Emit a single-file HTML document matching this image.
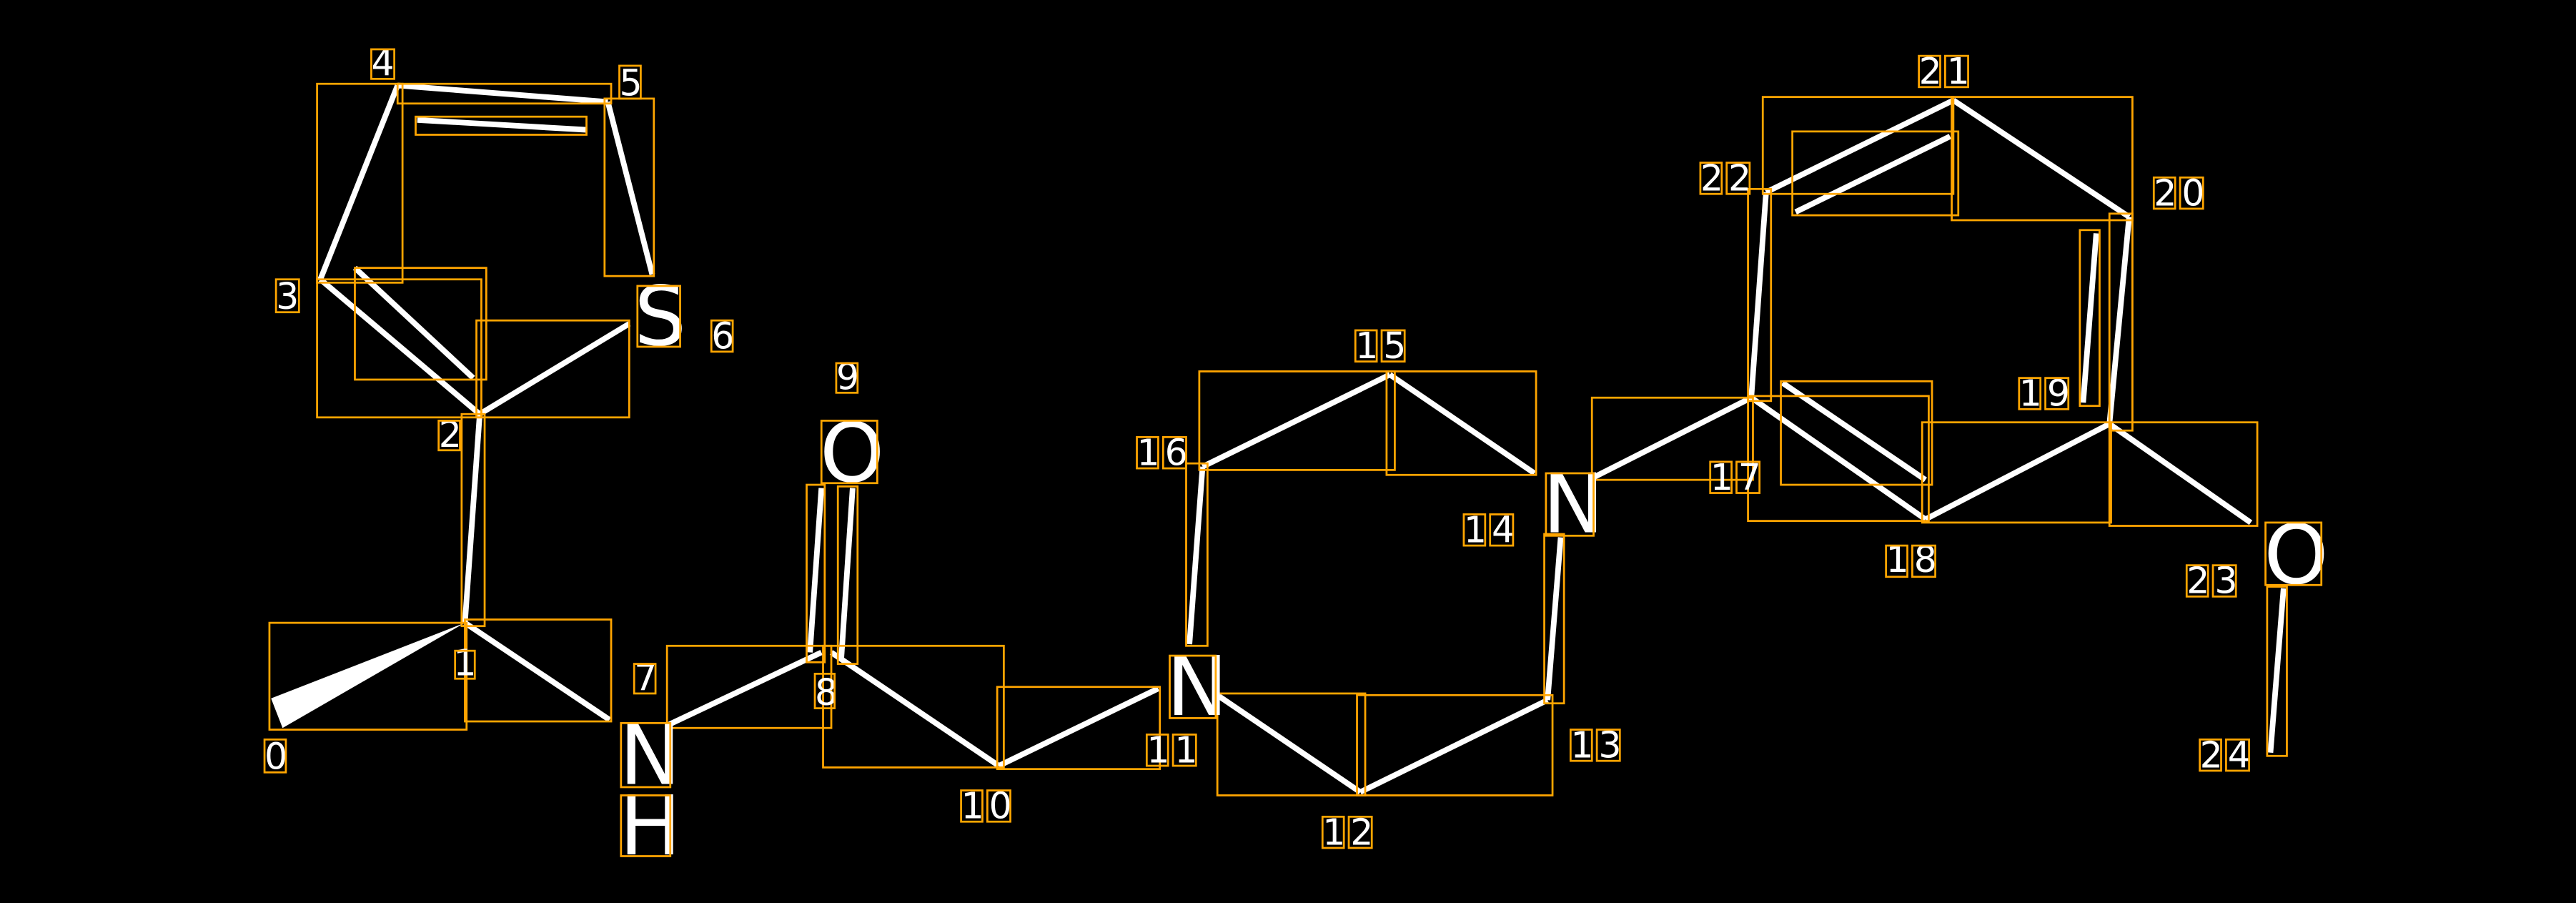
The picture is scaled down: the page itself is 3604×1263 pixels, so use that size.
<!DOCTYPE html>
<html><head><meta charset="utf-8"><style>
html,body{margin:0;padding:0;background:#000;}
svg{display:block;}
</style></head><body>
<svg width="3604" height="1263" viewBox="0 0 1568 549.5" preserveAspectRatio="none" xmlns="http://www.w3.org/2000/svg">
<rect width="1568" height="549.5" fill="#000"/>
<g stroke="#fff" stroke-width="3.4" stroke-linecap="butt" fill="none">
<line x1="283" y1="379" x2="292" y2="252"/>
<line x1="283" y1="379" x2="371" y2="438"/>
<line x1="292" y1="252" x2="195" y2="170"/>
<line x1="292" y1="252" x2="383" y2="197"/>
<line x1="195" y1="170" x2="242" y2="52"/>
<line x1="242" y1="52" x2="370" y2="62"/>
<line x1="254" y1="73" x2="357" y2="79"/>
<line x1="216" y1="163" x2="288" y2="230"/>
<line x1="370" y1="62" x2="397" y2="167"/>
<line x1="407" y1="441" x2="500" y2="397"/>
<line x1="493" y1="397" x2="500" y2="297"/>
<line x1="512" y1="402" x2="519" y2="297"/>
<line x1="506" y1="397" x2="608" y2="466"/>
<line x1="608" y1="466" x2="705" y2="419"/>
<line x1="741" y1="423" x2="828" y2="482"/>
<line x1="828" y1="482" x2="942" y2="426"/>
<line x1="942" y1="426" x2="950" y2="327"/>
<line x1="732" y1="284" x2="724" y2="392"/>
<line x1="732" y1="284" x2="846" y2="228"/>
<line x1="846" y1="228" x2="934" y2="288"/>
<line x1="969" y1="291" x2="1066" y2="242"/>
<line x1="1066" y1="242" x2="1172" y2="316"/>
<line x1="1085" y1="233" x2="1172" y2="292"/>
<line x1="1172" y1="316" x2="1284" y2="258"/>
<line x1="1284" y1="258" x2="1296" y2="132"/>
<line x1="1268" y1="245" x2="1276" y2="142"/>
<line x1="1296" y1="132" x2="1189" y2="61"/>
<line x1="1189" y1="61" x2="1075" y2="117"/>
<line x1="1093" y1="129" x2="1187" y2="83"/>
<line x1="1075" y1="117" x2="1066" y2="242"/>
<line x1="1284" y1="258" x2="1370" y2="318"/>
<line x1="1390" y1="358" x2="1382" y2="458"/>
</g>
<polygon points="283,379 165,425 172,443" fill="#fff"/>
<g stroke="#FFA500" stroke-width="1.2" fill="none">
<rect x="164" y="379" width="120" height="65"/>
<rect x="281" y="252" width="14" height="129"/>
<rect x="283" y="377" width="89" height="62"/>
<rect x="193" y="170" width="100" height="84"/>
<rect x="290" y="195" width="93" height="59"/>
<rect x="193" y="51" width="52" height="121"/>
<rect x="242" y="51" width="130" height="12"/>
<rect x="253" y="71" width="104" height="11"/>
<rect x="216" y="163" width="80" height="68"/>
<rect x="368" y="60" width="30" height="108"/>
<rect x="406" y="393" width="100" height="50"/>
<rect x="491" y="295" width="11" height="108"/>
<rect x="510" y="296" width="12" height="108"/>
<rect x="501" y="393" width="110" height="74"/>
<rect x="607" y="418" width="99" height="50"/>
<rect x="741" y="422" width="90" height="62"/>
<rect x="826" y="423" width="119" height="61"/>
<rect x="940" y="325" width="12" height="103"/>
<rect x="722" y="282" width="13" height="111"/>
<rect x="730" y="226" width="119" height="60"/>
<rect x="844" y="226" width="91" height="63"/>
<rect x="969" y="242" width="98" height="50"/>
<rect x="1064" y="241" width="110" height="76"/>
<rect x="1084" y="232" width="92" height="63"/>
<rect x="1170" y="257" width="115" height="61"/>
<rect x="1284" y="130" width="14" height="132"/>
<rect x="1266" y="140" width="12" height="107"/>
<rect x="1188" y="59" width="110" height="75"/>
<rect x="1073" y="59" width="116" height="59"/>
<rect x="1091" y="80" width="101" height="51"/>
<rect x="1064" y="115" width="14" height="129"/>
<rect x="1284" y="257" width="90" height="63"/>
<rect x="1380" y="357" width="12" height="103"/>
</g>
<g font-family="DejaVu Sans, Liberation Sans, sans-serif" fill="#fff" font-size="22">
<text x="161" y="468">0</text>
<text x="276" y="411">1</text>
<text x="267" y="272">2</text>
<text x="168" y="188">3</text>
<text x="226" y="46">4</text>
<text x="377" y="58">5</text>
<text x="433" y="212">6</text>
<text x="386" y="420">7</text>
<text x="496" y="429">8</text>
<text x="509" y="237">9</text>
<text x="585" y="498" letter-spacing="3">10</text>
<text x="698" y="464" letter-spacing="3">11</text>
<text x="805" y="514" letter-spacing="3">12</text>
<text x="956" y="461" letter-spacing="3">13</text>
<text x="891" y="330" letter-spacing="3">14</text>
<text x="825" y="218" letter-spacing="3">15</text>
<text x="692" y="283" letter-spacing="3">16</text>
<text x="1041" y="298" letter-spacing="3">17</text>
<text x="1148" y="348" letter-spacing="3">18</text>
<text x="1229" y="247" letter-spacing="3">19</text>
<text x="1311" y="125" letter-spacing="3">20</text>
<text x="1168" y="51" letter-spacing="3">21</text>
<text x="1035" y="116" letter-spacing="3">22</text>
<text x="1331" y="361" letter-spacing="3">23</text>
<text x="1339" y="467" letter-spacing="3">24</text>
</g>
<g font-family="DejaVu Sans, Liberation Sans, sans-serif" fill="#fff" font-size="50">
<text x="386" y="210">S</text>
<text x="499" y="293">O</text>
<text x="377" y="477">N</text>
<text x="377" y="520">H</text>
<text x="710" y="435">N</text>
<text x="939" y="324">N</text>
<text x="1378" y="355">O</text>
</g>
<g stroke="#FFA500" stroke-width="1.2" fill="none">
<rect x="161" y="450" width="13" height="20"/>
<rect x="277" y="396" width="12" height="17"/>
<rect x="267" y="256" width="13" height="18"/>
<rect x="168" y="170" width="14" height="20"/>
<rect x="226" y="30" width="14" height="18"/>
<rect x="377" y="40" width="13" height="20"/>
<rect x="433" y="195" width="13" height="19"/>
<rect x="386" y="404" width="13" height="18"/>
<rect x="496" y="410" width="12" height="21"/>
<rect x="509" y="221" width="13" height="18"/>
<rect x="585" y="481" width="13" height="19"/><rect x="601" y="481" width="14" height="19"/>
<rect x="698" y="447" width="13" height="19"/><rect x="714" y="447" width="14" height="19"/>
<rect x="805" y="497" width="13" height="19"/><rect x="821" y="497" width="14" height="19"/>
<rect x="956" y="444" width="13" height="19"/><rect x="972" y="444" width="14" height="19"/>
<rect x="891" y="313" width="13" height="19"/><rect x="907" y="313" width="14" height="19"/>
<rect x="825" y="201" width="13" height="19"/><rect x="841" y="201" width="14" height="19"/>
<rect x="692" y="266" width="13" height="19"/><rect x="708" y="266" width="14" height="19"/>
<rect x="1041" y="281" width="13" height="19"/><rect x="1057" y="281" width="14" height="19"/>
<rect x="1148" y="332" width="13" height="19"/><rect x="1164" y="332" width="14" height="19"/>
<rect x="1229" y="230" width="13" height="19"/><rect x="1245" y="230" width="14" height="19"/>
<rect x="1311" y="108" width="13" height="19"/><rect x="1327" y="108" width="14" height="19"/>
<rect x="1168" y="34" width="13" height="19"/><rect x="1184" y="34" width="14" height="19"/>
<rect x="1035" y="99" width="13" height="19"/><rect x="1051" y="99" width="14" height="19"/>
<rect x="1331" y="344" width="13" height="19"/><rect x="1347" y="344" width="14" height="19"/>
<rect x="1339" y="450" width="13" height="19"/><rect x="1355" y="450" width="14" height="19"/>
<rect x="388" y="174" width="26" height="37"/>
<rect x="500" y="256" width="34" height="38"/>
<rect x="378" y="440" width="30" height="39"/>
<rect x="378" y="484" width="30" height="37"/>
<rect x="712" y="399" width="28" height="38"/>
<rect x="941" y="288" width="29" height="38"/>
<rect x="1379" y="318" width="34" height="38"/>
</g>
</svg>
</body></html>
